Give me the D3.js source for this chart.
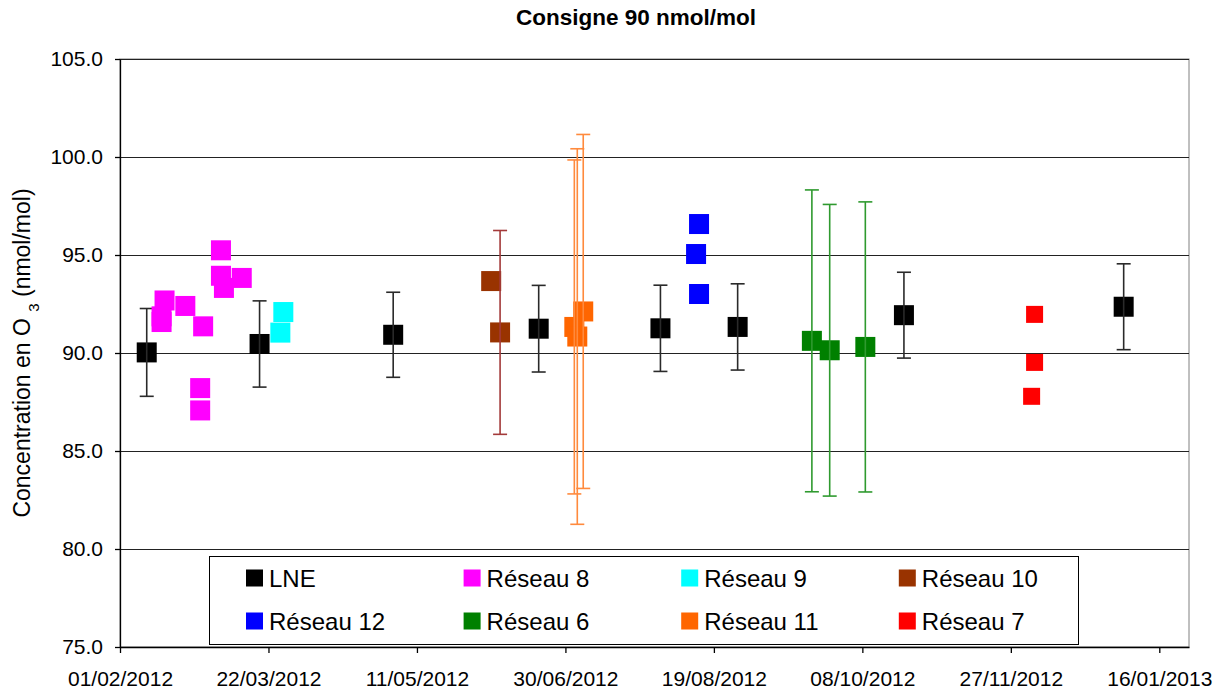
<!DOCTYPE html>
<html>
<head>
<meta charset="utf-8">
<script src="https://d3js.org/d3.v7.min.js"></script>
<style>
  body { margin: 0; background: #fff; }
  svg { font-family: "Liberation Sans", Arial, sans-serif; }
</style>
</head>
<body>
<script>
"use strict";

// ---- data ----
var xTickLabels = ["01/02/2012", "22/03/2012", "11/05/2012", "30/06/2012",
                   "19/08/2012", "08/10/2012", "27/11/2012", "16/01/2013"];
var yTicks = [75, 80, 85, 90, 95, 100, 105];

var lneDates  = ["10/02/2012", "19/03/2012", "03/05/2012", "21/06/2012",
                 "01/08/2012", "27/08/2012", "22/10/2012", "04/01/2013"];
var lneValues = [90.03, 90.46, 90.93, 91.24, 91.26, 91.33, 91.93, 92.36];
var lneErrors = [2.24, 2.20, 2.17, 2.21, 2.20, 2.20, 2.19, 2.19];

var r8Dates  = ["16/02/2012", "15/02/2012", "15/02/2012", "23/02/2012", "29/02/2012",
                "28/02/2012", "28/02/2012", "06/03/2012", "06/03/2012", "07/03/2012", "13/03/2012"];
var r8Values = [92.68, 91.87, 91.58, 92.40, 91.36, 88.21, 87.07, 95.24, 93.94, 93.32, 93.83];

var r9Dates  = ["27/03/2012", "26/03/2012"];
var r9Values = [92.09, 91.04];

var r10Dates  = ["05/06/2012", "08/06/2012"];
var r10Values = [93.67, 91.05];
var r10Errors = [null, 5.20];

var r12Dates  = ["14/08/2012", "13/08/2012", "14/08/2012"];
var r12Values = [96.58, 95.05, 93.01];

var r6Dates  = ["21/09/2012", "27/09/2012", "09/10/2012"];
var r6Values = [90.62, 90.14, 90.31];
var r6Errors = [7.70, 7.44, 7.40];

var r11Dates  = ["03/07/2012", "04/07/2012", "06/07/2012"];
var r11Values = [91.33, 90.84, 92.12];
var r11Errors = [8.52, 9.58, 9.03];

var r7Dates  = ["05/12/2012", "05/12/2012", "04/12/2012"];
var r7Values = [91.97, 89.52, 87.79];

// ---- setup ----
var width = 1226, height = 692;
var margin = {top: 59, right: 37, bottom: 45, left: 120};
var parse = d3.timeParse("%d/%m/%Y");
var fmt = d3.timeFormat("%d/%m/%Y");

// series table, legend order (row by row)
var series = [
  {name: "LNE",        dates: lneDates, values: lneValues, errors: lneErrors, color: "#000000", bar: "#2a2a2a", size: 20},
  {name: "Réseau 8",   dates: r8Dates,  values: r8Values,  errors: null,      color: "#FF00FF", size: 20},
  {name: "Réseau 9",   dates: r9Dates,  values: r9Values,  errors: null,      color: "#00FFFF", size: 20},
  {name: "Réseau 10",  dates: r10Dates, values: r10Values, errors: r10Errors, color: "#993300", bar: "#a33a3a", size: 20},
  {name: "Réseau 12",  dates: r12Dates, values: r12Values, errors: null,      color: "#0000FF", size: 20},
  {name: "Réseau 6",   dates: r6Dates,  values: r6Values,  errors: r6Errors,  color: "#008000", bar: "#2f9a2f", size: 20},
  {name: "Réseau 11",  dates: r11Dates, values: r11Values, errors: r11Errors, color: "#FF6600", bar: "#ff8a3d", size: 20},
  {name: "Réseau 7",   dates: r7Dates,  values: r7Values,  errors: null,      color: "#FF0000", size: 17}
];

var svg = d3.select("body").append("svg")
    .attr("width", width)
    .attr("height", height);

// axis runs a little past the last tick, like the original
var x = d3.scaleTime()
    .domain([parse("01/02/2012"), parse("26/01/2013")])
    .range([margin.left, width - margin.right]);

var y = d3.scaleLinear()
    .domain([75, 105])
    .range([height - margin.bottom, margin.top]);

// frame
svg.append("rect")
    .attr("x", margin.left)
    .attr("y", margin.top)
    .attr("width", width - margin.left - margin.right)
    .attr("height", height - margin.top - margin.bottom)
    .attr("fill", "none")
    .attr("stroke", "#808080");

// gridlines
svg.append("g").selectAll("line")
  .data(yTicks.slice(1))
  .enter().append("line")
    .attr("x1", margin.left)
    .attr("x2", width - margin.right)
    .attr("y1", function (d) { return Math.round(y(d)) + 0.5; })
    .attr("y2", function (d) { return Math.round(y(d)) + 0.5; })
    .attr("stroke", "#222");

// axes
var yAxis = svg.append("g")
    .attr("transform", "translate(" + margin.left + ",0)")
    .call(d3.axisLeft(y).tickValues(yTicks).tickFormat(d3.format(".1f"))
          .tickSize(5).tickSizeOuter(0).tickPadding(12));

var xAxis = svg.append("g")
    .attr("transform", "translate(0," + (height - margin.bottom) + ")")
    .call(d3.axisBottom(x).tickValues(xTickLabels.map(parse)).tickFormat(fmt)
          .tickSize(6).tickSizeOuter(0));

[yAxis, xAxis].forEach(function (a) {
  a.select(".domain").attr("stroke", "#000").attr("stroke-width", 1.3);
  a.selectAll(".tick line").attr("stroke", "#000").attr("stroke-width", 1.3);
  a.selectAll("text").attr("fill", "#000").style("font-size", "21px");
});
xAxis.selectAll("text").attr("y", 24);

// title
svg.append("text")
    .attr("x", 636)
    .attr("y", 25)
    .attr("text-anchor", "middle")
    .style("font-size", "22.5px")
    .style("font-weight", "bold")
    .text("Consigne 90 nmol/mol");

// y label with subscript
var yl = svg.append("text")
    .attr("transform", "translate(30," + (margin.top + (height - margin.top - margin.bottom) / 2) + ") rotate(-90)")
    .attr("text-anchor", "middle")
    .style("font-size", "23px");
yl.append("tspan").text("Concentration en O ");
yl.append("tspan").attr("baseline-shift", "sub").style("font-size", "15px").text("3");
yl.append("tspan").text(" (nmol/mol)");

// points and error bars
series.forEach(function (s) {
  var pts = s.dates.map(function (d, i) {
    return {date: parse(d), value: s.values[i], err: s.errors ? s.errors[i] : null};
  });
  var g = svg.append("g");

  g.selectAll("rect")
    .data(pts)
    .enter().append("rect")
      .attr("x", function (d) { return x(d.date) - s.size / 2; })
      .attr("y", function (d) { return y(d.value) - s.size / 2; })
      .attr("width", s.size)
      .attr("height", s.size)
      .attr("fill", s.color);

  var eb = g.selectAll("g.err")
    .data(pts.filter(function (d) { return d.err != null; }))
    .enter().append("g")
      .attr("class", "err")
      .attr("stroke", s.bar)
      .attr("stroke-width", 1.6);
  eb.append("line")
      .attr("x1", function (d) { return x(d.date); })
      .attr("x2", function (d) { return x(d.date); })
      .attr("y1", function (d) { return y(d.value + d.err); })
      .attr("y2", function (d) { return y(d.value - d.err); });
  [1, -1].forEach(function (sign) {
    eb.append("line")
        .attr("x1", function (d) { return x(d.date) - 7; })
        .attr("x2", function (d) { return x(d.date) + 7; })
        .attr("y1", function (d) { return y(d.value + sign * d.err); })
        .attr("y2", function (d) { return y(d.value + sign * d.err); });
  });
});

// legend
var legend = svg.append("g");
legend.append("rect")
    .attr("x", 209.5)
    .attr("y", 556.5)
    .attr("width", 869)
    .attr("height", 88)
    .attr("fill", "#fff")
    .attr("stroke", "#000");

var item = legend.selectAll("g.item")
  .data(series)
  .enter().append("g")
    .attr("class", "item")
    .attr("transform", function (d, i) {
      return "translate(" + (246 + (i % 4) * 217.6) + "," + (578 + Math.floor(i / 4) * 43) + ")";
    });
item.append("rect")
    .attr("x", 0)
    .attr("y", -8.5)
    .attr("width", 17)
    .attr("height", 17)
    .attr("fill", function (d) { return d.color; });
item.append("text")
    .attr("x", 23)
    .attr("dy", "0.36em")
    .style("font-size", "24px")
    .text(function (d) { return d.name; });
</script>
</body>
</html>
